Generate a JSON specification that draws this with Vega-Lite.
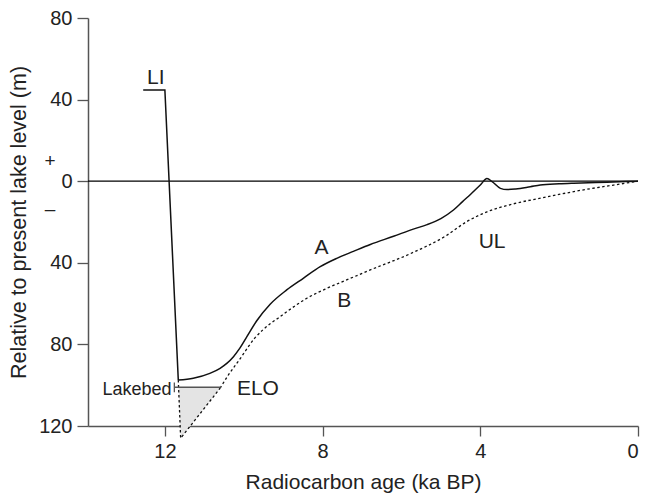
{
  "$schema": "https://vega.github.io/schema/vega-lite/v6.json",
  "width": 550,
  "height": 408,
  "autosize": {"type": "none"},
  "padding": {"left": 88, "top": 18, "right": 7, "bottom": 70},
  "background": "white",
  "config": {
    "font": "Liberation Sans",
    "view": {"stroke": null},
    "axis": {"grid": false}
  },
  "datasets": {
    "zero": [{"age": 13.95, "lev": 0}, {"age": 0, "lev": 0}],
    "tri": [
      {"age": 10.584, "lev": -101, "lev2": -101},
      {"age": 11.6, "lev": -101, "lev2": -126},
      {"age": 11.655, "lev": -101, "lev2": -101}
    ],
    "A1": [
      {"age": 12.55, "lev": 44.7},
      {"age": 12.0, "lev": 44.7},
      {"age": 11.66, "lev": -97.5}
    ],
    "A2": [
      {"age": 11.66, "lev": -97.5},
      {"age": 11.28, "lev": -96.6},
      {"age": 10.86, "lev": -94.2},
      {"age": 10.6, "lev": -91.7},
      {"age": 10.43, "lev": -89.3},
      {"age": 10.26, "lev": -86.0},
      {"age": 10.09, "lev": -81.6},
      {"age": 9.92, "lev": -76.2},
      {"age": 9.67, "lev": -68.4},
      {"age": 9.33, "lev": -60.3},
      {"age": 8.91, "lev": -53.3},
      {"age": 8.49, "lev": -47.6},
      {"age": 8.06, "lev": -41.9},
      {"age": 7.64, "lev": -37.8},
      {"age": 7.22, "lev": -34.4},
      {"age": 6.79, "lev": -31.0},
      {"age": 6.2, "lev": -27.0},
      {"age": 5.7, "lev": -23.5},
      {"age": 5.35, "lev": -21.3},
      {"age": 5.0, "lev": -18.3},
      {"age": 4.68, "lev": -14.1},
      {"age": 4.45, "lev": -10.0},
      {"age": 4.25, "lev": -6.5},
      {"age": 4.0, "lev": -1.9},
      {"age": 3.83, "lev": 1.3},
      {"age": 3.7, "lev": -0.2},
      {"age": 3.49, "lev": -3.5},
      {"age": 3.32, "lev": -4.1},
      {"age": 3.1, "lev": -3.8},
      {"age": 2.73, "lev": -2.7},
      {"age": 2.48, "lev": -1.9},
      {"age": 2.0, "lev": -1.3},
      {"age": 1.63, "lev": -1.0},
      {"age": 0.79, "lev": -0.5},
      {"age": 0, "lev": 0}
    ],
    "Bs": [
      {"age": 11.66, "lev": -97.5, "o": 1},
      {"age": 11.6, "lev": -126, "o": 2},
      {"age": 10.6, "lev": -101.5, "o": 3}
    ],
    "Bc": [
      {"age": 10.6, "lev": -101.5},
      {"age": 10.39, "lev": -95.0},
      {"age": 10.09, "lev": -87.0},
      {"age": 9.9, "lev": -81.6},
      {"age": 9.72, "lev": -76.9},
      {"age": 9.52, "lev": -73.0},
      {"age": 9.33, "lev": -69.9},
      {"age": 9.1, "lev": -66.7},
      {"age": 8.91, "lev": -64.0},
      {"age": 8.4, "lev": -57.4},
      {"age": 7.89, "lev": -52.5},
      {"age": 7.39, "lev": -48.4},
      {"age": 6.79, "lev": -43.5},
      {"age": 5.77, "lev": -35.5},
      {"age": 4.89, "lev": -27.0},
      {"age": 4.34, "lev": -19.8},
      {"age": 3.83, "lev": -15.0},
      {"age": 3.2, "lev": -11.3},
      {"age": 2.31, "lev": -7.7},
      {"age": 1.46, "lev": -4.5},
      {"age": 0.62, "lev": -1.9},
      {"age": 0, "lev": 0}
    ],
    "lake": [{"age": 11.76, "lev": -101}, {"age": 10.584, "lev": -101}],
    "laketick": [{"age": 11.76, "lev": -98.7, "lev2": -103.5}],
    "labels": [
      {"age": 12.23, "lev": 47.6, "label": "LI"},
      {"age": 8.03, "lev": -35.7, "label": "A"},
      {"age": 7.45, "lev": -61.8, "label": "B"},
      {"age": 3.7, "lev": -32.9, "label": "UL"},
      {"age": 9.64, "lev": -104.8, "label": "ELO"}
    ],
    "lakelabel": [{"age": 11.83, "lev": -104.8, "label": "Lakebed"}],
    "signs": [
      {"age": 14.91, "lev": 9.9, "label": "+"},
      {"age": 14.91, "lev": -13.8, "label": "–"}
    ]
  },
  "encoding": {
    "x": {
      "field": "age",
      "type": "quantitative",
      "scale": {"domain": [0, 13.95], "reverse": true, "nice": false, "zero": false},
      "axis": {
        "values": [12, 8, 4, 0],
        "title": "Radiocarbon age (ka BP)",
        "titleFontSize": 21,
        "titleFontWeight": "normal",
        "titleColor": "#222",
        "titlePadding": 10,
        "labelFontSize": 20,
        "labelColor": "#222",
        "labelPadding": 5,
        "tickSize": 10,
        "tickColor": "#555",
        "tickWidth": 1.3,
        "domainColor": "#555",
        "domainWidth": 1.5
      }
    },
    "y": {
      "field": "lev",
      "type": "quantitative",
      "scale": {"domain": [-120, 80], "nice": false, "zero": false},
      "axis": {
        "values": [80, 40, 0, -40, -80, -120],
        "labelExpr": "abs(datum.value)",
        "title": "Relative to present lake level (m)",
        "titleFontSize": 21.5,
        "titleFontWeight": "normal",
        "titleColor": "#222",
        "titlePadding": 8,
        "labelFontSize": 20,
        "labelColor": "#222",
        "labelPadding": 5,
        "tickSize": 11,
        "tickColor": "#555",
        "tickWidth": 1.3,
        "domainColor": "#555",
        "domainWidth": 1.5
      }
    }
  },
  "layer": [
    {
      "data": {"name": "tri"},
      "mark": {"type": "area", "color": "#e4e4e4", "orient": "vertical"},
      "encoding": {"y2": {"field": "lev2"}}
    },
    {
      "data": {"name": "zero"},
      "mark": {"type": "line", "color": "#000", "strokeWidth": 1.2},
      "encoding": {}
    },
    {
      "data": {"name": "A1"},
      "mark": {"type": "line", "color": "#111", "strokeWidth": 1.5},
      "encoding": {}
    },
    {
      "data": {"name": "A2"},
      "mark": {"type": "line", "color": "#111", "strokeWidth": 1.5, "interpolate": "monotone"},
      "encoding": {}
    },
    {
      "data": {"name": "Bs"},
      "mark": {"type": "line", "color": "#111", "strokeWidth": 1.3, "strokeDash": [2.5, 2.5]},
      "encoding": {"order": {"field": "o"}}
    },
    {
      "data": {"name": "Bc"},
      "mark": {"type": "line", "color": "#111", "strokeWidth": 1.3, "strokeDash": [2.5, 2.5], "interpolate": "monotone"},
      "encoding": {}
    },
    {
      "data": {"name": "lake"},
      "mark": {"type": "line", "color": "#555", "strokeWidth": 1.6},
      "encoding": {}
    },
    {
      "data": {"name": "laketick"},
      "mark": {"type": "rule", "color": "#555", "strokeWidth": 1.3},
      "encoding": {"y2": {"field": "lev2"}}
    },
    {
      "data": {"name": "labels"},
      "mark": {"type": "text", "fontSize": 21, "align": "center", "baseline": "alphabetic", "color": "#222"},
      "encoding": {"text": {"field": "label"}}
    },
    {
      "data": {"name": "lakelabel"},
      "mark": {"type": "text", "fontSize": 18, "align": "right", "baseline": "alphabetic", "color": "#222"},
      "encoding": {"text": {"field": "label"}}
    },
    {
      "data": {"name": "signs"},
      "mark": {"type": "text", "fontSize": 19, "align": "center", "baseline": "middle", "color": "#222"},
      "encoding": {"text": {"field": "label"}}
    }
  ]
}
